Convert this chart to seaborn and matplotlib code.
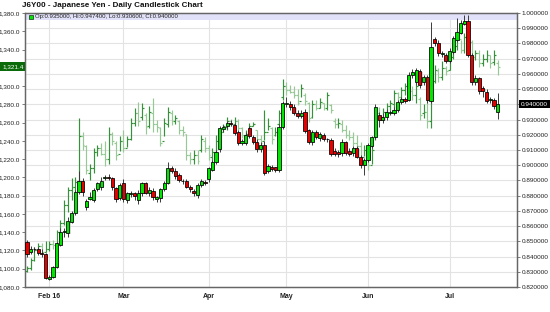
import numpy as np
import pandas as pd
import matplotlib
matplotlib.use("Agg")
import matplotlib.pyplot as plt
import seaborn as sns
from matplotlib.transforms import blended_transform_factory
from matplotlib.patches import Rectangle

# ---------------- data ----------------
# Japanese Yen daily candles (right axis)
yen_open = [0.8498,0.8432,0.8447,0.8447,0.8425,0.8417,0.8251,0.8268,0.8333,0.8476,
            0.8563,0.8554,0.8629,0.8684,0.8826,0.8898,0.8724,0.8775,0.8771,0.8842,
            0.8855,0.8918,0.8925,0.8914,0.8848,0.8783,0.8881,0.8771,0.8811,0.8815,
            0.8771,0.8815,0.8881,0.8819,0.8831,0.8776,0.8783,0.8842,0.8885,0.8980,
            0.8964,0.8936,0.8898,0.8898,0.8859,0.8833,0.8804,0.8870,0.8892,0.8907,
            0.8971,0.9021,0.9104,0.9236,0.9255,0.9279,0.9264,0.9220,0.9144,0.9144,
            0.9243,0.9187,0.9154,0.9104,0.9133,0.8964,0.8986,0.8986,0.8969,0.9253,
            0.9402,0.9402,0.9384,0.9345,0.9323,0.9352,0.9231,0.9154,0.9220,0.9177,
            0.9198,0.9170,0.9166,0.9095,0.9089,0.9078,0.9154,0.9095,0.9078,0.9111,
            0.9056,0.9001,0.9034,0.9126,0.9187,0.9330,0.9297,0.9319,0.9341,0.9345,
            0.9363,0.9417,0.9433,0.9428,0.9593,0.9545,0.9621,0.9549,0.9578,0.9424,
            0.9827,0.9805,0.9730,0.9724,0.9687,0.9746,0.9823,0.9867,0.9928,0.9950,
            0.9724,0.9549,0.9571,0.9507,0.9483,0.9428,0.9428,0.9350]
yen_high = [0.8510,0.8470,0.8460,0.8460,0.8450,0.8425,0.8280,0.8340,0.8495,0.8585,
            0.8588,0.8660,0.8700,0.8840,0.8960,0.8914,0.8780,0.8826,0.8850,0.8890,
            0.8920,0.8935,0.8940,0.8920,0.8860,0.8880,0.8907,0.8825,0.8830,0.8825,
            0.8838,0.8890,0.8890,0.8855,0.8850,0.8800,0.8850,0.8895,0.9023,0.8995,
            0.8980,0.8950,0.8910,0.8910,0.8870,0.8845,0.8880,0.8910,0.8905,0.8990,
            0.9035,0.9100,0.9260,0.9265,0.9290,0.9300,0.9280,0.9230,0.9170,0.9220,
            0.9260,0.9200,0.9170,0.9150,0.9160,0.9010,0.9000,0.8990,0.9270,0.9420,
            0.9445,0.9420,0.9400,0.9360,0.9360,0.9370,0.9240,0.9230,0.9230,0.9220,
            0.9210,0.9180,0.9180,0.9110,0.9100,0.9170,0.9160,0.9110,0.9125,0.9125,
            0.9070,0.9050,0.9145,0.9190,0.9400,0.9350,0.9340,0.9370,0.9365,0.9380,
            0.9430,0.9445,0.9450,0.9610,0.9630,0.9640,0.9630,0.9590,0.9590,0.9943,
            0.9840,0.9820,0.9750,0.9740,0.9770,0.9850,0.9970,0.9955,0.9990,0.9985,
            0.9740,0.9590,0.9580,0.9520,0.9500,0.9445,0.9440,0.9474]
yen_low = [0.8400,0.8420,0.8430,0.8410,0.8400,0.8250,0.8245,0.8260,0.8325,0.8470,
           0.8530,0.8530,0.8620,0.8670,0.8810,0.8800,0.8705,0.8771,0.8760,0.8830,
           0.8840,0.8900,0.8900,0.8840,0.8760,0.8770,0.8760,0.8754,0.8790,0.8770,
           0.8745,0.8800,0.8810,0.8800,0.8770,0.8760,0.8760,0.8830,0.8875,0.8950,
           0.8910,0.8890,0.8875,0.8850,0.8825,0.8800,0.8785,0.8860,0.8870,0.8890,
           0.8965,0.9010,0.9090,0.9220,0.9240,0.9260,0.9200,0.9130,0.9130,0.9130,
           0.9180,0.9140,0.9090,0.9090,0.8935,0.8950,0.8960,0.8955,0.8955,0.9240,
           0.9380,0.9360,0.9330,0.9310,0.9310,0.9210,0.9140,0.9130,0.9170,0.9160,
           0.9160,0.9155,0.9060,0.9060,0.9055,0.9060,0.9070,0.9060,0.9060,0.9045,
           0.8985,0.8935,0.9020,0.9110,0.9170,0.9250,0.9280,0.9300,0.9330,0.9330,
           0.9350,0.9400,0.9410,0.9420,0.9570,0.9530,0.9510,0.9530,0.9410,0.9410,
           0.9780,0.9720,0.9710,0.9670,0.9670,0.9730,0.9810,0.9860,0.9920,0.9710,
           0.9530,0.9530,0.9470,0.9450,0.9410,0.9410,0.9370,0.9306]
yen_close = [0.8417,0.8450,0.8448,0.8425,0.8418,0.8257,0.8268,0.8333,0.8487,0.8563,
             0.8565,0.8633,0.8684,0.8826,0.8898,0.8822,0.8767,0.8790,0.8837,0.8881,
             0.8898,0.8920,0.8914,0.8855,0.8776,0.8870,0.8776,0.8815,0.8812,0.8798,
             0.8815,0.8881,0.8819,0.8837,0.8789,0.8789,0.8842,0.8885,0.8980,0.8964,
             0.8929,0.8903,0.8895,0.8859,0.8842,0.8816,0.8870,0.8898,0.8881,0.8980,
             0.9023,0.9089,0.9242,0.9253,0.9275,0.9269,0.9214,0.9148,0.9159,0.9198,
             0.9192,0.9154,0.9104,0.9133,0.8947,0.8995,0.8973,0.8969,0.9253,0.9407,
             0.9404,0.9380,0.9341,0.9323,0.9345,0.9227,0.9154,0.9220,0.9187,0.9205,
             0.9170,0.9171,0.9074,0.9074,0.9074,0.9154,0.9082,0.9074,0.9111,0.9056,
             0.9001,0.9034,0.9133,0.9183,0.9384,0.9297,0.9319,0.9352,0.9352,0.9363,
             0.9417,0.9433,0.9424,0.9593,0.9614,0.9626,0.9527,0.9578,0.9428,0.9779,
             0.9805,0.9735,0.9731,0.9687,0.9752,0.9834,0.9877,0.9932,0.9950,0.9724,
             0.9549,0.9571,0.9490,0.9488,0.9424,0.9430,0.9389,0.9400]

# Comparison series, daily OHLC bars (left axis)
cmp_open = [1098,1101,1110,1120,1125,1118,1122,1127,1126,1140,1150,1170,1186,1190,1196,1245,
            1234,1205,1210,1228,1232,1226,1220,1248,1238,1226,1240,1232,1242,1260,1270,1266,
            1268,1256,1270,1258,1254,1240,1258,1270,1262,1262,1252,1248,1224,1220,1224,1230,
            1240,1232,1222,1228,1242,1250,1255,1262,1258,1262,1254,1246,1248,1256,1252,1242,
            1240,1250,1254,1246,1258,1288,1300,1296,1294,1290,1284,1290,1282,1266,1280,1276,
            1282,1276,1279,1262,1258,1258,1252,1246,1244,1238,1234,1222,1228,1214,1244,1270,
            1266,1272,1278,1280,1292,1288,1296,1300,1295,1290,1286,1270,1272,1262,1306,1316,
            1310,1320,1318,1332,1344,1352,1340,1354,1348,1332,1336,1325,1330,1334,1326,1325]
cmp_high = [1103,1112,1124,1128,1128,1130,1130,1131,1142,1153,1175,1190,1199,1200,1265,1250,
            1235,1215,1232,1235,1238,1240,1255,1250,1240,1245,1252,1245,1265,1276,1283,1281,
            1270,1278,1287,1263,1255,1265,1277,1274,1268,1263,1256,1248,1228,1230,1230,1246,
            1244,1235,1232,1246,1254,1259,1266,1264,1266,1264,1255,1252,1260,1261,1252,1246,
            1274,1265,1255,1255,1274,1308,1305,1301,1300,1297,1302,1292,1283,1285,1285,1287,
            1282,1294,1280,1265,1265,1263,1257,1252,1250,1246,1239,1235,1230,1235,1274,1277,
            1276,1281,1285,1296,1294,1299,1303,1314,1300,1307,1288,1280,1292,1315,1323,1320,
            1327,1322,1336,1347,1361,1350,1358,1359,1350,1340,1339,1335,1339,1334,1339,1328]
cmp_low = [1096,1099,1108,1117,1116,1118,1119,1122,1124,1135,1148,1162,1175,1180,1194,1230,
           1204,1197,1205,1223,1224,1212,1215,1236,1219,1229,1228,1233,1241,1256,1256,1263,
           1248,1254,1250,1250,1234,1245,1255,1257,1259,1248,1245,1219,1215,1215,1215,1228,
           1228,1219,1216,1224,1243,1250,1252,1256,1255,1252,1243,1240,1250,1256,1238,1234,
           1241,1252,1237,1245,1256,1285,1290,1292,1287,1279,1288,1279,1261,1265,1274,1276,
           1274,1274,1271,1254,1254,1250,1243,1241,1234,1230,1219,1223,1208,1215,1241,1261,
           1264,1268,1274,1274,1284,1284,1290,1285,1285,1281,1263,1265,1254,1254,1303,1305,
           1307,1312,1318,1330,1339,1336,1336,1343,1328,1328,1321,1322,1326,1320,1323,1312]
cmp_close = [1101,1110,1120,1125,1118,1122,1127,1126,1140,1150,1170,1186,1190,1195,1245,1236,
             1208,1210,1228,1232,1226,1220,1248,1240,1225,1240,1232,1242,1260,1270,1262,1276,
             1255,1272,1258,1255,1238,1260,1272,1262,1265,1252,1250,1224,1220,1225,1218,1242,
             1232,1224,1228,1240,1250,1256,1262,1258,1262,1254,1246,1248,1256,1259,1242,1238,
             1250,1256,1242,1250,1270,1300,1296,1294,1290,1282,1298,1284,1265,1280,1276,1283,
             1276,1290,1274,1258,1260,1252,1246,1244,1238,1234,1222,1230,1214,1230,1270,1266,
             1272,1278,1282,1292,1288,1296,1300,1295,1290,1300,1268,1272,1262,1305,1318,1310,
             1320,1316,1332,1344,1356,1340,1354,1348,1332,1336,1325,1330,1334,1325,1334,1321.4]

month_labels = ["Feb 16", "Mar", "Apr", "May", "Jun", "Jul"]
month_index = [6, 26, 49, 70, 92, 114]

left_ticks = list(range(1080, 1381, 20))
right_ticks = [round(0.82 + 0.01 * k, 2) for k in range(19)]

title = "J6Y00 - Japanese Yen - Daily Candlestick Chart"
legend_text = "Op:0.935000, Hi:0.947400, Lo:0.930600, Cl:0.940000"
last_cmp_label = "1,321.4"
last_yen_label = "0.940000"

# ---------------- figure ----------------
sns.set_style("white")
plt.rcParams["font.family"] = ["Liberation Sans", "DejaVu Sans"]

W, H = 550, 312
fig = plt.figure(figsize=(W / 100, H / 100), dpi=100)
fig.patch.set_facecolor("white")
ax = fig.add_axes([25 / W, 25 / H, 492 / W, 274 / H])
ax2 = ax.twinx()

df = pd.DataFrame({"o": yen_open, "h": yen_high, "l": yen_low, "c": yen_close,
                   "go": cmp_open, "gh": cmp_high, "gl": cmp_low, "gc": cmp_close})
df["x"] = np.arange(len(df))

ax.set_xlim(-0.55, 132.2)
ax.set_ylim(1080, 1380)
ax2.set_ylim(0.82, 1.00)

# grid (drawn under everything, in right-axis units)
blend = blended_transform_factory(ax.transAxes, ax2.transData)
ax.hlines(right_ticks, 0, 1, transform=blend, color="#e3e3e3", lw=0.8, zorder=0)
ax.vlines(month_index, 1080, 1380, color="#e3e3e3", lw=0.8, zorder=0)
# top band
ax.add_patch(Rectangle((0, 1 - 6.8 / 274), 1, 6.8 / 274, transform=ax.transAxes,
                       facecolor="#e1e1f9", edgecolor="none", zorder=0.5))

# comparison OHLC bars
up = df["gc"] >= df["go"]
gcol = np.where(up, "#36913a", "#97c997")
ax.vlines(df["x"], df["gl"], df["gh"], colors=gcol, lw=0.85, zorder=1)
ax.hlines(df["go"], df["x"] - 0.5, df["x"], colors=gcol, lw=0.85, zorder=1)
ax.hlines(df["gc"], df["x"], df["x"] + 0.5, colors=gcol, lw=0.85, zorder=1)

# candlesticks (soft shadow, wick, body)
ax2.patch.set_visible(False)
cup = df["c"] >= df["o"]
ccol = np.where(cup, "#00e600", "#e60000")
body_lo = np.minimum(df["o"], df["c"])
body_h = np.maximum(np.abs(df["c"] - df["o"]), 0.0004)
ax2.bar(df["x"] + 0.3, body_h, bottom=body_lo - 0.0006, width=0.86, color="#bdbdbd",
        edgecolor="none", alpha=0.6, zorder=1.5)
ax2.vlines(df["x"], df["l"], df["h"], colors="#3a3a3a", lw=0.7, zorder=2)
ax2.bar(df["x"], body_h, bottom=body_lo, width=0.86, color=ccol,
        edgecolor="black", linewidth=0.55, zorder=3)

# axes styling
for a in (ax, ax2):
    for s in a.spines.values():
        s.set_color("#666666")
        s.set_linewidth(0.9)

ax.set_yticks(left_ticks)
ax.set_yticklabels(["" if v == 1320 else f"{v:,.1f}" for v in left_ticks])
ax.tick_params(axis="y", length=2.5, width=0.6, color="#666666", pad=1,
               labelsize=4.6, labelcolor="#222222")
ax2.set_yticks(right_ticks)
ax2.set_yticklabels(["" if v == 0.94 else f"{v:.6f}" for v in right_ticks])
ax2.tick_params(axis="y", length=2.5, width=0.6, color="#666666", pad=1,
                labelsize=4.6, labelcolor="#222222")
ax.set_xticks(month_index)
ax.set_xticklabels(month_labels, fontweight="bold")
ax.tick_params(axis="x", length=2.5, width=0.6, color="#666666", pad=2,
               labelsize=5.0, labelcolor="#222222")
ax.grid(False)
ax2.grid(False)

# title and legend text
def fx(px):
    return px / W

def fy(py):
    return 1 - py / H

fig.text(fx(22), fy(5.5), title, fontsize=5.8, fontweight="bold",
         ha="left", va="center", color="#111111")
fig.patches.append(Rectangle((fx(29), fy(18.5)), 4 / W, 4 / H, transform=fig.transFigure,
                             facecolor="#00e600", edgecolor="black", linewidth=0.4,
                             figure=fig))
fig.text(fx(35), fy(16.3), legend_text, fontsize=4.3, ha="left", va="center",
         color="#222222")

# highlighted last values
fig.patches.append(Rectangle((fx(0), fy(71)), 24.5 / W, 9 / H, transform=fig.transFigure,
                             facecolor="#0b6b0b", edgecolor="none", figure=fig, zorder=5))
fig.text(fx(23.5), fy(66.5), last_cmp_label, fontsize=4.6, ha="right", va="center",
         color="white", zorder=6)
fig.patches.append(Rectangle((fx(518.5), fy(108.3)), 31 / W, 8.5 / H,
                             transform=fig.transFigure, facecolor="black",
                             edgecolor="none", figure=fig, zorder=5))
fig.text(fx(520.5), fy(104.1), last_yen_label, fontsize=4.6, ha="left", va="center",
         color="white", zorder=6)

fig.savefig("out.png", dpi=100, facecolor="white")
